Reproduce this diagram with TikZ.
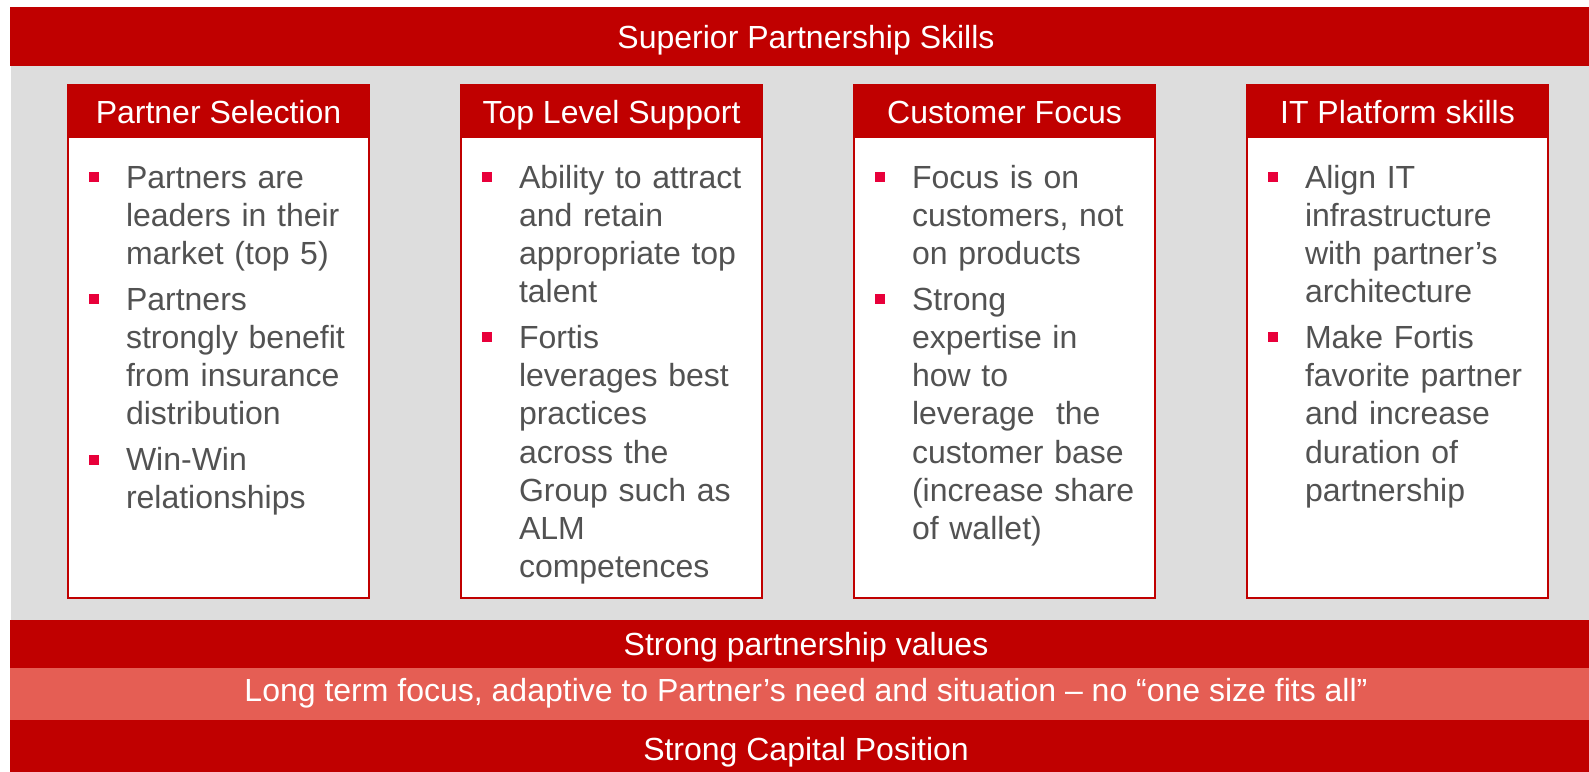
\documentclass[tikz,border=0pt]{standalone}
\usepackage{fontspec}
\setmainfont{Liberation Sans}
\usetikzlibrary{positioning,calc}
\definecolor{fortisred}{RGB}{192,0,0}
\definecolor{fortispink}{RGB}{229,94,84}
\definecolor{panelgray}{RGB}{221,221,221}
\definecolor{bulletred}{RGB}{232,0,58}
\definecolor{bodygray}{RGB}{82,82,82}
\begin{document}
\begin{tikzpicture}[x=1pt,y=-1pt,
    every node/.style={inner sep=0pt,outer sep=0pt},
    bar/.style={fill=#1,text=white,minimum width=1592pt,text height=23pt,text depth=0pt,
      font=\fontsize{32}{38}\selectfont},
    colbox/.style={draw=fortisred,line width=1.5pt,fill=white,minimum width=301pt,minimum height=513pt},
    colhead/.style={fill=fortisred,text=white,minimum width=301pt,minimum height=53pt,
      text height=23pt,text depth=0pt,font=\fontsize{32}{38}\selectfont},
    item/.style={anchor=base west,text width=250pt,align=left,text=bodygray,
      font=\fontsize{32}{38.2}\selectfont},
    bul/.style={fill=bulletred,minimum size=10pt}]
  \useasboundingbox (0,0) rectangle (1589,771);
  \fill[white] (0,0) rectangle (1589,771);
  \fill[panelgray] (11,66) rectangle (1589,620);
  % bands
  \node[bar=fortisred,minimum height=59pt] (skills) at (806,36.5) {Superior Partnership Skills};
  \node[bar=fortisred,minimum height=48pt] (values) at (806,644) {Strong partnership values};
  \node[bar=fortispink,minimum height=52pt,text depth=8pt] (longterm) at (806,694) {Long term focus, adaptive to Partner’s need and situation – no “one size fits all”};
  \node[bar=fortisred,minimum height=60pt,text depth=3pt] (capital) at (806,750) {Strong Capital Position};
  % columns
  \foreach \i/\name in {0/Partner Selection,1/Top Level Support,2/Customer Focus,3/IT Platform skills}{
    \node[colbox] (box\i) at ({218.5+393*\i},341.5) {};
    \node[colhead] (head\i) at ({218.5+393*\i},111.5) {\name};
  }
  % bullet points
  \foreach \n/\x/\y/\txt in {%
     11/126/188/{Partners are\\leaders in their\\market (top 5)},
     12/126/310.2/{Partners\\strongly benefit\\from insurance\\distribution},
     13/126/470.6/{Win-Win\\relationships},
     21/519/188/{Ability to attract\\and retain\\appropriate top\\talent},
     22/519/348.4/{Fortis\\leverages best\\practices\\across the\\Group such as\\ALM\\competences},
     31/912/188/{Focus is on\\customers, not\\on products},
     32/912/310.2/{Strong\\expertise in\\how to\\leverage\ \ the\\customer base\\(increase share\\of wallet)},
     41/1305/188/{Align IT\\infrastructure\\with partner’s\\architecture},
     42/1305/348.4/{Make Fortis\\favorite partner\\and increase\\duration of\\partnership}}{%
    \node[item] (item\n) at (\x,\y) {\txt};
    \node[bul] (bul\n) at ($(item\n.base west)+(-32,-11)$) {};
  }
\end{tikzpicture}
\end{document}
